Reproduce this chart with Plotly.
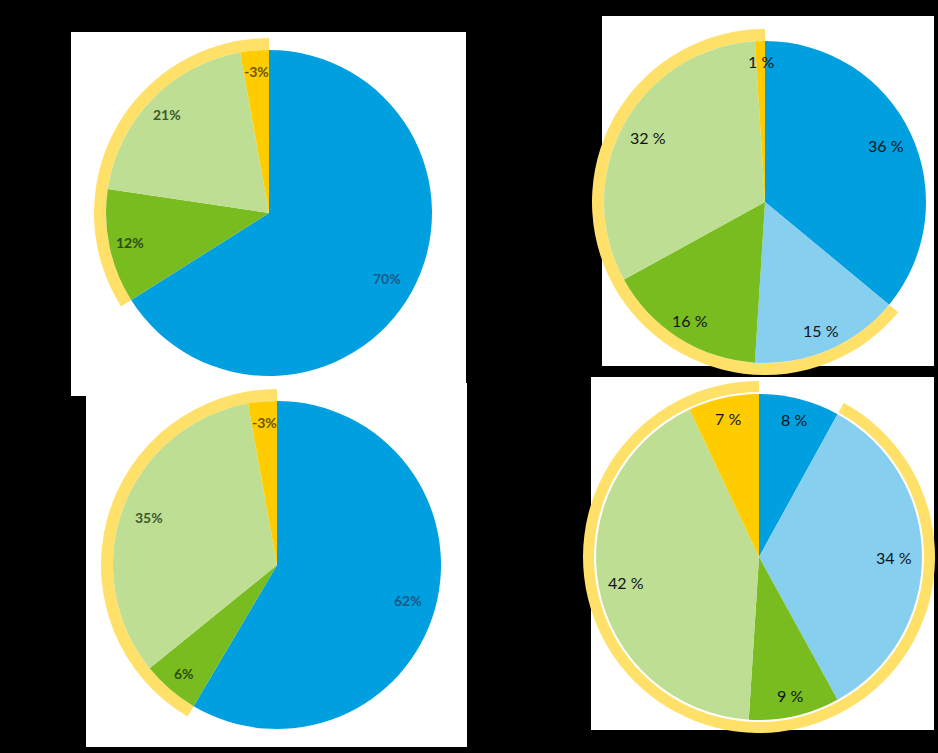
import math
import plotly.graph_objects as go

# ---------------- data ----------------
p1_labels = ["A", "C", "D", "E"]
p1_pct = [70, 12, 21, -3]

p2_labels = ["A", "B", "C", "D", "E"]
p2_pct = [36, 15, 16, 32, 1]

p3_labels = ["A", "C", "D", "E"]
p3_pct = [62, 6, 35, -3]

p4_labels = ["A", "B", "C", "D", "E"]
p4_pct = [8, 34, 9, 42, 7]

# ---------------- style ----------------
W, H = 938, 753
COLORS = {"A": "#009FE0", "B": "#86CFEF", "C": "#78BC20", "D": "#BEDE94", "E": "#FFCC00"}
DARK_TEXT = {"A": "#1B5A88", "B": "#1B4A68", "C": "#2E4C12", "D": "#3C5A2C", "E": "#6A5600"}
RING = "#FFE169"

panels = [
    dict(rect=(71, 32, 466, 396), c=(269, 213), r=163, ro=175, ri=163,
         labels=p1_labels, pct=p1_pct, fmt="{}%", bold=True, size=14),
    dict(rect=(602, 16, 934, 366), c=(765, 202), r=161, ro=173, ri=161,
         labels=p2_labels, pct=p2_pct, fmt="{} %", bold=False, size=16),
    dict(rect=(86, 383, 467, 747), c=(277, 565), r=164, ro=176, ri=164,
         labels=p3_labels, pct=p3_pct, fmt="{}%", bold=True, size=14),
    dict(rect=(591, 377, 934, 730), c=(759, 557), r=163, ro=176, ri=165,
         labels=p4_labels, pct=p4_pct, fmt="{} %", bold=False, size=16),
]


def dom(cx, cy, r):
    return dict(x=[(cx - r) / W, (cx + r) / W], y=[(H - cy - r) / H, (H - cy + r) / H])


fig = go.Figure()
shapes = []
annotations = []

for p in panels:
    x0, y0, x1, y1 = p["rect"]
    shapes.append(dict(type="rect", xref="paper", yref="paper",
                       x0=x0 / W, x1=x1 / W, y0=1 - y1 / H, y1=1 - y0 / H,
                       fillcolor="white", line=dict(width=0), layer="below"))
    vals = [abs(v) for v in p["pct"]]
    cx, cy = p["c"]

    # highlight ring around all slices except the first
    fig.add_trace(go.Pie(
        values=[vals[0], sum(vals[1:])], labels=["first", "rest"],
        domain=dom(cx, cy, p["ro"]), hole=p["ri"] / p["ro"],
        sort=False, direction="clockwise", rotation=0,
        marker=dict(colors=["rgba(0,0,0,0)", RING], line=dict(width=0)),
        textinfo="none", hoverinfo="skip", showlegend=False))

    fig.add_trace(go.Pie(
        values=vals, labels=p["labels"],
        domain=dom(cx, cy, p["r"]),
        sort=False, direction="clockwise", rotation=0,
        marker=dict(colors=[COLORS[l] for l in p["labels"]], line=dict(width=0)),
        textinfo="none", hoverinfo="skip", showlegend=False))

    total = sum(vals)
    cum = 0
    for lab, v, a in zip(p["labels"], p["pct"], vals):
        mid = (cum + a / 2) / total * 2 * math.pi
        cum += a
        frac = 0.83 if a / total > 0.25 else 0.87
        d = p["r"] * frac
        px = cx + d * math.sin(mid)
        py = cy - d * math.cos(mid)
        txt = p["fmt"].format(v)
        if p["bold"]:
            txt = "<b>" + txt + "</b>"
            col = DARK_TEXT[lab]
        else:
            col = "#101418"
        annotations.append(dict(x=px / W, y=1 - py / H, xref="paper", yref="paper",
                                xanchor="center", yanchor="middle",
                                text=txt, showarrow=False,
                                font=dict(family="Lato, Open Sans, sans-serif", size=p["size"], color=col)))

fig.update_layout(
    width=W, height=H, margin=dict(l=0, r=0, t=0, b=0),
    paper_bgcolor="black", plot_bgcolor="black",
    shapes=shapes, annotations=annotations, showlegend=False,
)

fig.write_html("out.html")
